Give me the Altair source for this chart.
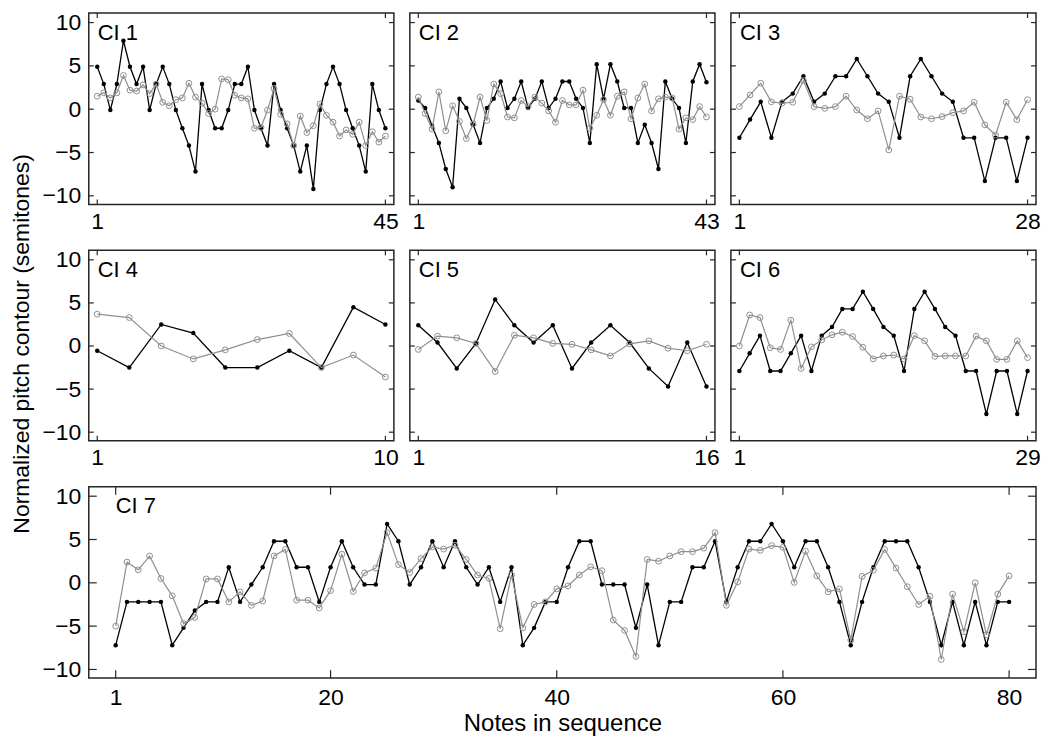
import altair as alt
import pandas as pd

FONT = "Liberation Sans"
GRAY = "#8f8f8f"
FRAME = "#262626"

# ---------------- data (semitones) ----------------
ci1_black = [4.9, 2.9, -0.1, 2.9, 7.9, 4.9, 2.9, 4.9, -0.1, 2.9,
             4.9, 2.9, -0.1, -2.2, -4.2, -7.2, 2.9, -0.1, -2.2, -2.2,
             -0.1, 2.9, 2.9, 4.9, -0.1, -2.2, -4.2, 2.9, -0.1, -2.2,
             -4.2, -7.2, -4.2, -9.2, -0.1, 2.9, 4.9, 2.9, -0.1, -2.2,
             -4.2, -7.2, 2.9, -0.1, -2.2]
ci1_gray = [1.5, 1.9, 1.3, 1.9, 3.9, 2.2, 2.1, 2.8, 1.8, 2.9,
            0.8, 0.4, 1.1, 1.3, 3.0, 1.4, 0.7, -0.5, 0.0, 3.5,
            3.4, 1.6, 1.3, 1.2, -2.2, -2.1, -0.1, 2.4, -0.6, -1.7,
            -4.2, -0.8, -2.7, -1.9, 0.6, -0.7, -1.5, -3.1, -2.4, -2.9,
            -1.5, -4.2, -2.6, -3.8, -3.1]
ci2_black = [1.0, 0.15, -1.9, -3.9, -6.9, -9.0, 1.2, 0.15, -1.8, -3.9,
             0.15, 1.2, 3.2, 0.15, 1.2, 3.2, 0.15, 1.2, 3.2, 0.15,
             1.2, 3.2, 3.2, 1.2, 0.15, -3.9, 5.2, 1.2, 5.2, 3.2,
             0.15, 0.15, -3.9, -1.8, -3.9, -6.9, 3.2, 1.2, 0.15, -3.9,
             3.2, 5.2, 3.1]
ci2_gray = [1.4, -0.5, -2.3, 2.0, -2.5, 0.4, -1.4, -3.4, -1.7, 1.4,
            -1.3, 2.9, 1.8, -0.9, -1.0, 1.0, 0.3, 1.4, 0.7, -0.2,
            -1.5, 1.0, 0.5, 0.5, 2.2, -2.2, -0.7, 1.1, -0.7, 1.5,
            2.0, -1.1, 1.3, 2.9, -0.2, 1.2, 1.4, 1.3, -2.3, -1.0,
            -1.2, 0.3, -0.9]
ci3_black = [-3.3, -1.2, 0.85, -3.3, 0.85, 1.8, 3.8, 0.85, 1.8, 3.8,
             3.8, 5.8, 3.8, 1.8, 0.85, -3.3, 3.8, 5.8, 3.8, 1.8,
             0.85, -3.3, -3.3, -8.3, -3.3, -3.3, -8.3, -3.3]
ci3_gray = [0.3, 1.65, 3.0, 0.85, 0.7, 0.8, 3.3, 0.3, 0.1, 0.3,
            1.5, -0.1, -1.1, -0.2, -4.7, 1.5, 1.15, -0.9, -1.1, -0.85,
            -0.4, -0.2, 0.8, -1.8, -3.0, 0.8, -1.2, 1.1]
ci4_black = [-0.55, -2.5, 2.5, 1.5, -2.5, -2.5, -0.55, -2.5, 4.5, 2.5]
ci4_gray = [3.7, 3.3, 0.0, -1.5, -0.45, 0.75, 1.45, -2.5, -1.05, -3.6]
ci5_black = [2.4, 0.4, -2.6, 0.3, 5.4, 2.4, 0.4, 2.4, -2.6, 0.4,
             2.4, 0.4, -2.6, -4.7, 0.4, -4.7]
ci5_gray = [-0.4, 1.15, 0.95, 0.3, -2.95, 1.25, 0.95, 0.3, 0.2, -0.45,
            -1.15, 0.25, 0.6, -0.25, -0.55, 0.2]
ci6_black = [-2.9, -0.85, 1.2, -2.9, -2.9, -0.85, 1.2, -2.9, 1.2, 2.2,
             4.3, 4.3, 6.3, 4.3, 2.2, 1.2, -2.9, 4.3, 6.3, 4.3,
             2.2, 1.2, -2.9, -2.9, -7.9, -2.9, -2.9, -7.9, -2.9]
ci6_gray = [0.0, 3.6, 3.3, -0.2, -0.4, 3.0, -2.6, -0.1, 0.7, 1.3,
            1.6, 1.1, -0.15, -1.5, -1.15, -1.05, -1.5, 1.2, 0.6, -1.2,
            -1.15, -1.15, -1.15, 1.15, 0.6, -1.55, -1.55, 0.6, -1.35]
ci7_black = [-7.2, -2.2, -2.2, -2.2, -2.2, -7.2, -5.2, -3.2, -2.2, -2.2,
             1.8, -2.2, -0.2, 1.8, 4.8, 4.8, 1.8, 1.8, -2.2, 1.8,
             4.8, 1.8, -0.2, -0.2, 6.8, 4.8, -0.2, 1.8, 4.8, 1.8,
             4.8, 1.8, -0.2, 1.8, -2.2, 1.8, -7.2, -5.2, -2.2, -2.2,
             1.8, 4.8, 4.8, -0.2, -0.2, -0.2, -5.2, -0.2, -7.2, -2.2,
             -2.2, 1.8, 1.8, 4.8, -2.2, 1.8, 4.8, 4.8, 6.8, 4.8,
             1.8, 4.8, 4.8, 1.8, -2.2, -7.2, -2.2, 1.8, 4.8, 4.8,
             4.8, 1.8, -2.2, -7.2, -2.2, -7.2, -2.2, -7.2, -2.2, -2.2]
ci7_gray = [-5.0, 2.4, 1.5, 3.1, 0.5, -1.5, -4.7, -4.0, 0.45, 0.45,
            -2.2, -1.05, -2.6, -2.1, 3.1, 3.85, -2.0, -2.0, -2.9, -0.9,
            3.3, -1.0, 1.15, 1.7, 5.8, 2.1, 1.2, 2.8, 4.15, 3.9,
            4.35, 2.7, 0.9, 0.5, -5.3, 0.9, -5.2, -2.5, -2.2, -0.7,
            -0.35, 0.9, 1.85, 1.4, -4.3, -5.5, -8.5, 2.7, 2.5, 3.1,
            3.6, 3.6, 4.0, 5.8, -2.6, 0.1, 3.9, 3.75, 4.3, 4.1,
            0.05, 3.65, 0.8, -1.05, -0.7, -6.6, 0.75, 1.45, 3.85, 1.7,
            -0.45, -2.5, -1.55, -8.85, -1.3, -5.65, 0.0, -6.0, -1.3, 0.8]

y_ticks = [-10, -5, 0, 5, 10]
y_domain = [-11.0, 11.1]
x_ticks_ci7 = [1, 20, 40, 60, 80]
y_title = "Normalized pitch contour (semitones)"
x_title = "Notes in sequence"


def panel(label, black, gray, width, height, xticks, xpad, tick_len,
          show_y, xtitle=None, label_x=9, label_y=27, label_pad=6):
    n = len(black)
    xs = list(range(1, n + 1))
    xscale = alt.Scale(domain=[1, n], padding=xpad, nice=False, zero=False)
    yscale = alt.Scale(domain=y_domain, nice=False, zero=False)
    xaxis_kw = dict(values=xticks, format="d", ticks=False, tickSize=0,
                    domain=False, grid=False, labelFontSize=23,
                    labelFont=FONT, labelColor="black",
                    labelPadding=label_pad, labelFlush=False,
                    labelOverlap=False)
    if xtitle:
        xaxis_kw.update(titleFontSize=24, titleFont=FONT,
                        titleFontWeight="normal", titleColor="black",
                        titlePadding=3)
    X = alt.X("x:Q", scale=xscale, axis=alt.Axis(**xaxis_kw),
              title=xtitle if xtitle else None)
    if show_y:
        yaxis = alt.Axis(values=y_ticks, ticks=False, tickSize=0,
                         domain=False, grid=False, labelFontSize=23,
                         labelFont=FONT, labelColor="black",
                         labelPadding=8,
                         labelExpr="replace(datum.label, '-', '\u2212')")
        Y = alt.Y("y:Q", scale=yscale, axis=yaxis, title=None)
    else:
        Y = alt.Y("y:Q", scale=yscale, axis=None)

    dfb = pd.DataFrame({"x": xs, "y": black})
    dfg = pd.DataFrame({"x": xs, "y": gray})
    dyt = pd.DataFrame({"y": y_ticks})
    dxt = pd.DataFrame({"x": xticks})
    dlab = pd.DataFrame({"label": [label]})

    tick_style = dict(color=FRAME, strokeWidth=1.2)
    ytl = alt.Chart(dyt).mark_rule(**tick_style).encode(
        y=Y, x=alt.value(0), x2=alt.value(tick_len))
    ytr = alt.Chart(dyt).mark_rule(**tick_style).encode(
        y=Y, x=alt.value(width - tick_len), x2=alt.value(width))
    xtb = alt.Chart(dxt).mark_rule(**tick_style).encode(
        x=X, y=alt.value(height - tick_len), y2=alt.value(height))
    xtt = alt.Chart(dxt).mark_rule(**tick_style).encode(
        x=X, y=alt.value(0), y2=alt.value(tick_len))

    bl = alt.Chart(dfb).mark_line(color="black", strokeWidth=1.3).encode(x=X, y=Y)
    bp = alt.Chart(dfb).mark_circle(color="black", size=20, opacity=1).encode(x=X, y=Y)
    gl = alt.Chart(dfg).mark_line(color=GRAY, strokeWidth=1.2).encode(x=X, y=Y)
    gp = alt.Chart(dfg).mark_point(shape="circle", filled=False, color=GRAY,
                                   size=34, strokeWidth=1, opacity=1).encode(x=X, y=Y)
    txt = alt.Chart(dlab).mark_text(align="left", baseline="alphabetic",
                                    fontSize=22, font=FONT, color="black").encode(
        text="label:N", x=alt.value(label_x), y=alt.value(label_y))

    return alt.layer(ytl, ytr, xtb, xtt, bl, bp, gl, gp, txt).properties(
        width=width, height=height)


W, H = 306, 192
p1 = panel("CI 1", ci1_black, ci1_gray, W, H, [1, 45], 8.5, 5, True)
p2 = panel("CI 2", ci2_black, ci2_gray, W, H, [1, 43], 8.5, 5, False)
p3 = panel("CI 3", ci3_black, ci3_gray, W, H, [1, 28], 8.5, 5, False)
p4 = panel("CI 4", ci4_black, ci4_gray, W, 191, [1, 10], 8.5, 5, True)
p5 = panel("CI 5", ci5_black, ci5_gray, W, 191, [1, 16], 8.5, 5, False)
p6 = panel("CI 6", ci6_black, ci6_gray, W, 191, [1, 29], 8.5, 5, False)
p7 = panel("CI 7", ci7_black, ci7_gray, 950, H, x_ticks_ci7, 27, 8, True,
           xtitle=x_title, label_x=27, label_y=26, label_pad=8)

row1 = alt.hconcat(p1, p2, p3, spacing=16, bounds="flush")
row2 = alt.hconcat(p4, p5, p6, spacing=16, bounds="flush")

chart = alt.vconcat(row1, row2, p7, spacing=13).properties(
    title=alt.TitleParams(y_title, orient="left", anchor="middle",
                          fontSize=23, font=FONT, fontWeight="normal",
                          color="black", offset=7, dx=30),
    padding={"left": 3, "top": 1, "right": 0, "bottom": 0},
).configure_view(stroke=FRAME, strokeWidth=1.5)

chart.save("out.html", embed_options={"renderer": "svg", "actions": False})
